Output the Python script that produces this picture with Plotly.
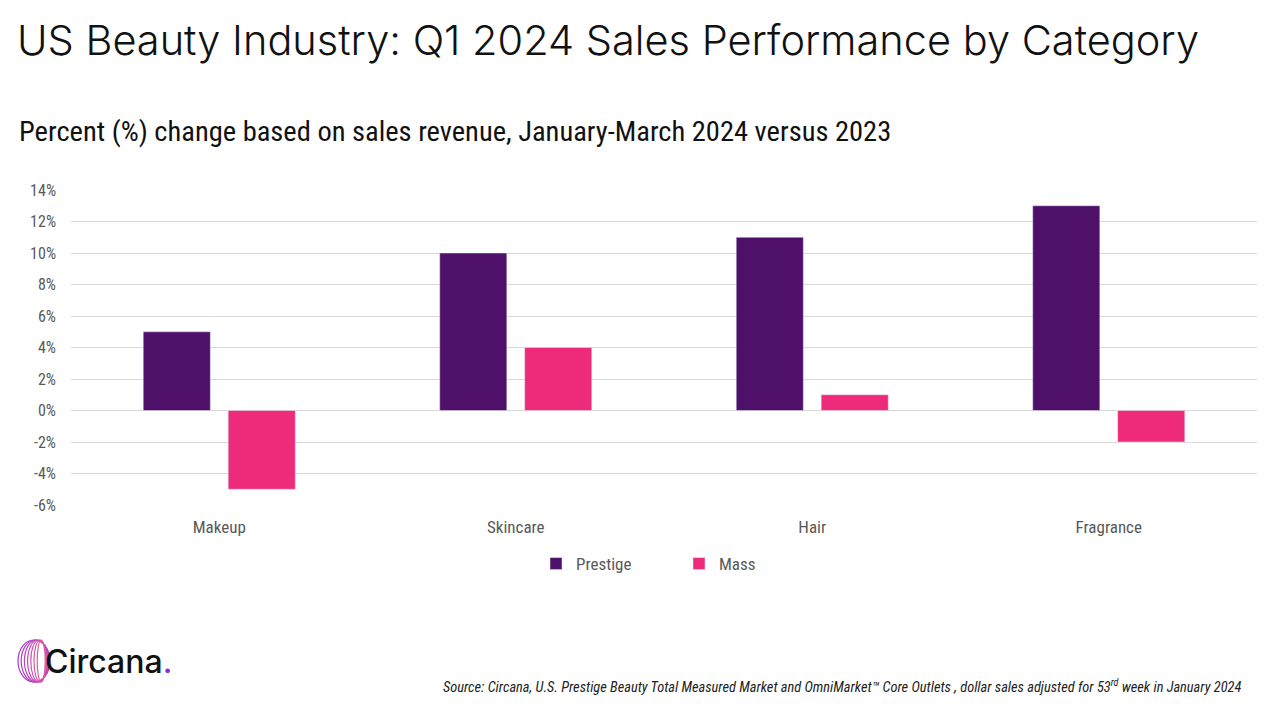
import plotly.graph_objects as go

categories = ["Makeup", "Skincare", "Hair", "Fragrance"]
prestige = [5, 10, 11, 13]
mass = [-5, 4, 1, -2]
tick_vals = [-6, -4, -2, 0, 2, 4, 6, 8, 10, 12, 14]
tick_text = [f"{v}%" for v in tick_vals]

PURPLE = "#4E1068"
PINK = "#EE2A7B"
COND = "Roboto Condensed, Liberation Sans Narrow, Roboto, sans-serif"

W, H = 1280, 720
L, R, T, B = 71, 23, 190, 215
pw, ph = W - L - R, H - T - B

def px(x):
    return (x - L) / pw

def py(y):
    return (H - B - y) / ph

fig = go.Figure()
fig.add_trace(go.Bar(name="Prestige", x=categories, y=prestige, marker_color=PURPLE))
fig.add_trace(go.Bar(name="Mass", x=categories, y=mass, marker_color=PINK))

fig.update_layout(
    width=W, height=H,
    margin=dict(l=L, r=R, t=T, b=B),
    paper_bgcolor="white", plot_bgcolor="white",
    barmode="group", bargap=0.427, bargroupgap=0.21,
    showlegend=True,
    legend=dict(orientation="h", x=px(679), xanchor="center", y=py(564), yanchor="middle",
                font=dict(family=COND, size=17, color="#595959"),
                itemwidth=30, entrywidth=98, traceorder="normal"),
    title=dict(text="US Beauty Industry: Q1 2024 Sales Performance by Category",
               x=17 / W, xref="container", xanchor="left",
               y=1 - 40 / H, yref="container", yanchor="middle",
               font=dict(family="Inter, Lato, sans-serif", size=41.5, color="#111111", weight=300)),
)
fig.update_yaxes(range=[-6, 14], tickvals=tick_vals, ticktext=tick_text,
                 showgrid=True, gridcolor="#D9D9D9", gridwidth=1,
                 zeroline=False, showline=False, ticks="", automargin=False,
                 ticklabelstandoff=14,
                 tickfont=dict(family=COND, size=16, color="#595959"))
fig.update_xaxes(showgrid=False, showline=False, ticks="", automargin=False,
                 ticklabelstandoff=10,
                 tickfont=dict(family=COND, size=17, color="#595959"))

fig.add_annotation(text="Percent (%) change based on sales revenue, January-March 2024 versus 2023",
                   xref="paper", yref="paper", x=px(17), y=py(131), xanchor="left", yanchor="middle",
                   showarrow=False, font=dict(family=COND, size=28.5, color="#111111"))

fig.add_annotation(text="Source: Circana, U.S. Prestige Beauty Total Measured Market and OmniMarket™ Core Outlets , dollar sales adjusted for 53<sup>rd</sup> week in January 2024",
                   xref="paper", yref="paper", x=px(1243), y=py(686), xanchor="right", yanchor="middle",
                   showarrow=False, font=dict(family=COND, size=14.4, color="#222222", style="italic"))

# logo
ring_half_widths = [16, 14, 12, 10, 8, 6, 4]
ring_colors = ["#A83CCB", "#B040C6", "#BA45C0", "#C44AB8", "#CE50B0", "#D856A8", "#E05CA0"]
for i, (hw, c) in enumerate(zip(ring_half_widths, ring_colors)):
    cx = 34 + (16 - hw) * 0.6
    fig.add_shape(type="circle", xref="paper", yref="paper",
                  x0=px(cx - hw), x1=px(cx + hw), y0=py(682), y1=py(640),
                  line=dict(color=c, width=1.2), fillcolor="rgba(0,0,0,0)")
fig.add_annotation(text="Circana<span style='color:#8A2BE2'>.</span>",
                   xref="paper", yref="paper", x=px(43), y=py(661), xanchor="left", yanchor="middle",
                   showarrow=False, font=dict(family="Inter, Lato, sans-serif", size=32, color="#111111", weight=500))

fig.write_html("out.html", config={"displayModeBar": False},
               post_script="document.body.style.margin='0';document.body.style.padding='0';")
